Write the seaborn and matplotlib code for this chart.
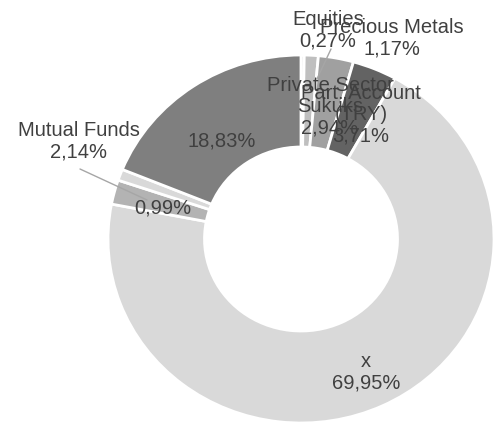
import matplotlib
matplotlib.use("Agg")
import matplotlib.pyplot as plt
import seaborn as sns

# data, clockwise from 12 o'clock
categories = ["Equities", "Precious Metals", "Private Sector\nSukuks", "Part. Account\n(TRY)",
              "x", "Mutual Funds", "", ""]
values = [0.27, 1.17, 2.94, 3.71, 69.95, 2.14, 0.99, 18.83]
colors = ["#d9d9d9", "#bfbfbf", "#a0a0a0", "#636363", "#d9d9d9", "#b3b3b3", "#d9d9d9", "#7f7f7f"]

# label centres in pixels (as placed in the original chart)
label_pos = {0: (328, 30), 1: (392, 38), 2: (330, 107), 3: (361, 115),
             4: (366, 372), 5: (79, 141), 6: (163, 208), 7: (222, 141)}
leaders = [((80, 169), (147, 200)), ((331, 49), (317, 79))]

CX, CY, RX, RY = 301, 239, 193, 184


def px(x, y):
    return (x - CX) / RX, (CY - y) / RY


sns.set_theme(style="white")
plt.rcParams['font.family'] = ['Liberation Sans', 'DejaVu Sans']

fig = plt.figure(figsize=(4.95, 4.25), dpi=100)
ax = fig.add_axes([(CX - RX) / 495, (425 - CY - RY) / 425, 2 * RX / 495, 2 * RY / 425])

ax.pie(values, colors=colors, startangle=90, counterclock=False, radius=1,
       wedgeprops=dict(width=0.5, edgecolor="white", linewidth=2))
ax.set_aspect("auto")
ax.set_xlim(-1, 1)
ax.set_ylim(-1, 1)

for (x0, y0), (x1, y1) in leaders:
    a, b = px(x0, y0)
    c, d = px(x1, y1)
    ax.plot([a, c], [b, d], color="#a6a6a6", lw=1, clip_on=False)

for i, (cat, v) in enumerate(zip(categories, values)):
    txt = f"{v:.2f}".replace(".", ",") + "%"
    if cat:
        txt = cat + "\n" + txt
    x, y = px(*label_pos[i])
    ax.text(x, y, txt, ha="center", va="center", fontsize=14.5, color="#404040",
            linespacing=1.15, clip_on=False)

fig.savefig("out.png", dpi=100)
